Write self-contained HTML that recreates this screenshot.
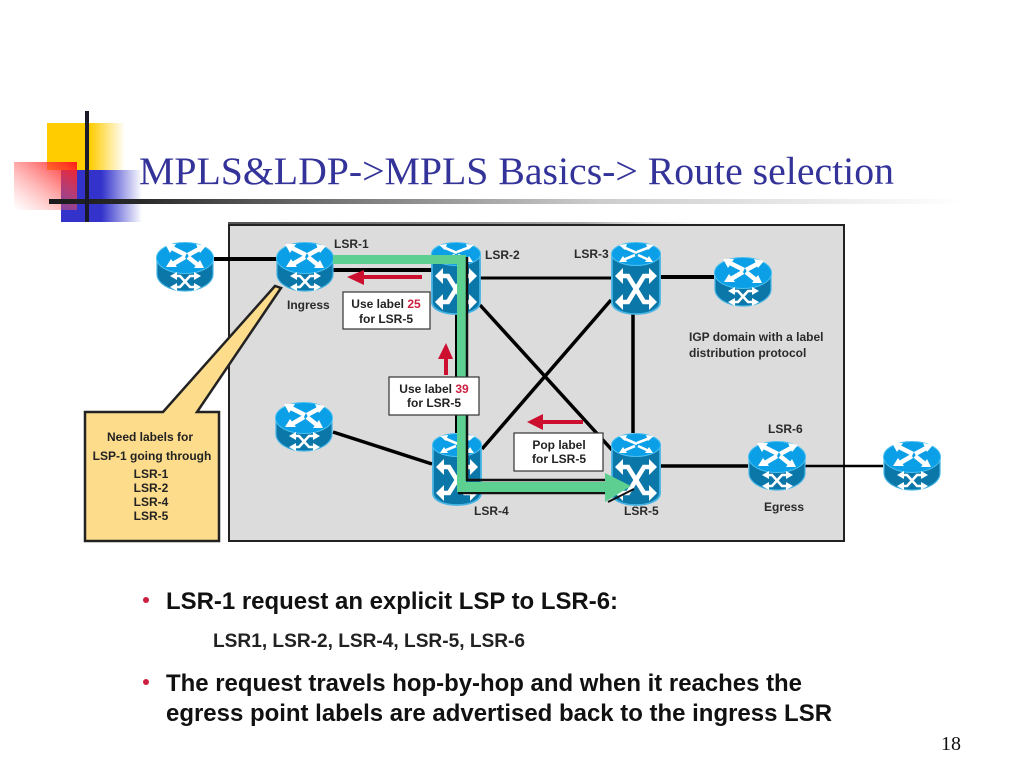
<!DOCTYPE html>
<html><head><meta charset="utf-8"><style>
html,body{margin:0;padding:0;background:#fff;width:1024px;height:768px;overflow:hidden}
svg{display:block}
text{font-family:"Liberation Sans",sans-serif}
.l{font-size:12px;font-weight:bold;fill:#2a2a2a}
.c{font-size:12px;font-weight:bold;fill:#222;text-anchor:middle}
.b{font-size:24px;font-weight:bold;fill:#111}
</style></head><body>
<svg width="1024" height="768" viewBox="0 0 1024 768" xmlns="http://www.w3.org/2000/svg">
<defs>
<linearGradient id="gy" x1="0" x2="1" y1="0" y2="0"><stop offset=".55" stop-color="#ffcc00"/><stop offset="1" stop-color="#ffcc00" stop-opacity="0"/></linearGradient>
<linearGradient id="gb" x1="0" x2="1" y1="0" y2="0"><stop offset=".5" stop-color="#3333cc"/><stop offset="1" stop-color="#3333cc" stop-opacity="0"/></linearGradient>
<linearGradient id="gr" x1="1" x2="0" y1="0" y2="1"><stop offset="0" stop-color="#ff1a1a"/><stop offset=".95" stop-color="#ff8080" stop-opacity=".05"/><stop offset="1" stop-color="#fff" stop-opacity="0"/></linearGradient>
<linearGradient id="gl" x1="0" x2="1" y1="0" y2="0"><stop offset="0" stop-color="#1a1a1a"/><stop offset=".1" stop-color="#2a2a2a"/><stop offset=".32" stop-color="#777"/><stop offset=".6" stop-color="#ccc"/><stop offset="1" stop-color="#fff"/></linearGradient>
<linearGradient id="gt" x1="0" x2="1" y1="0" y2="0"><stop offset="0" stop-color="#555"/><stop offset=".7" stop-color="#aaa"/><stop offset="1" stop-color="#fff" stop-opacity="0"/></linearGradient>
<g id="r">
<path d="M1 17V33C1 42 13 50 29 50S57 42 57 33V17Z" fill="#0b76a8" stroke="#45b4e4" stroke-width="1.2"/>
<ellipse cx="29" cy="17" rx="28.5" ry="15.5" fill="#0a9fe6" stroke="#4cc0f0" stroke-width="1"/>
<g stroke="#fff" stroke-width="4.5" fill="none">
<path d="M14 6L30 14M45 7L32 14M17 23L29 16M42 24L32 16"/>
</g>
<path d="M9 3L20 3 14 12ZM50 5L40 3 44 12ZM10 26L15 18 21 26ZM48 27L38 27 44 19Z" fill="#fff"/>
<g stroke="#fff" stroke-width="2.6" fill="none">
<path d="M19 35H24L34 46H40M19 46H24L34 35H40"/>
</g>
<path d="M14 35L21 31V39ZM14 46L21 42V50ZM45 35L38 31V39ZM45 46L38 42V50Z" fill="#fff"/>
</g>
<g id="t">
<path d="M1 12V60C1 67 11 72 25 72S49 67 49 60V12Z" fill="#0b76a8" stroke="#45b4e4" stroke-width="1.8"/>
<ellipse cx="25" cy="12" rx="24.5" ry="11.5" fill="#0a9fe6" stroke="#4cc0f0" stroke-width="1"/>
<g stroke="#fff" stroke-width="2.6" fill="none">
<path d="M12 5L26 11M39 5L26 10M12 18L24 13M38 18L27 13"/>
</g>
<path d="M8 3L16 2 14 8ZM43 3L35 2 37 8ZM8 20L12 14 16 20ZM42 20L34 20 38 14Z" fill="#fff"/>
<g stroke="#fff" stroke-width="4.6" fill="none">
<path d="M10 34H17L25 47 17 60H10M40 34H33L25 47 33 60H40"/>
</g>
<path d="M4 34L12 26V42ZM4 60L12 52V68ZM46 34L38 26V42ZM46 60L38 52V68Z" fill="#fff"/>
</g>
</defs>

<!-- decoration -->
<rect x="47" y="123" width="78" height="47" fill="url(#gy)"/>
<rect x="61" y="170" width="81" height="52" fill="url(#gb)"/>
<rect x="14" y="162" width="63" height="48" fill="url(#gr)"/>
<rect x="49" y="199" width="915" height="5" fill="url(#gl)"/>
<rect x="85" y="111" width="4" height="111" fill="#1a1a2a"/>

<text x="139" y="184" font-size="39" fill="#333399" style="font-family:'Liberation Serif',serif" textLength="755" lengthAdjust="spacingAndGlyphs">MPLS&amp;LDP-&gt;MPLS Basics-&gt; Route selection</text>

<!-- panel -->
<rect x="228" y="222" width="510" height="3" fill="url(#gt)"/>
<rect x="229" y="225" width="615" height="316" fill="#dcdcdc" stroke="#222" stroke-width="2"/>

<!-- callout -->
<path d="M85 412H163L275 286 281 288 197 412H219V541H85Z" fill="#fddc8c" stroke="#222" stroke-width="2.5"/>
<text class="c" x="150" y="441">Need labels for</text>
<text class="c" x="152" y="460">LSP-1 going through</text>
<text class="c" x="151" y="478">LSR-1</text>
<text class="c" x="151" y="492">LSR-2</text>
<text class="c" x="151" y="506">LSR-4</text>
<text class="c" x="151" y="520">LSR-5</text>

<!-- connectors -->
<g stroke="#000" fill="none">
<path d="M214 259H277" stroke-width="4"/>
<path d="M333 270H432" stroke-width="4"/>
<path d="M480 278H611" stroke-width="3"/>
<path d="M661 277H714" stroke-width="4"/>
<path d="M457 313V433" stroke-width="4"/>
<path d="M480 305L612 450" stroke-width="3.5"/>
<path d="M611 300L482 449" stroke-width="3.5"/>
<path d="M633 314V433" stroke-width="3.5"/>
<path d="M333 432L432 464" stroke-width="3.5"/>
<path d="M661 466H748" stroke-width="3.5"/>
<path d="M805 466H883" stroke-width="2.5"/>
</g>

<!-- routers -->
<use href="#r" x="156" y="241"/>
<use href="#r" x="276" y="241"/>
<use href="#r" x="714" y="256"/>
<use href="#r" x="275" y="401"/>
<use href="#r" x="748" y="440"/>
<use href="#r" x="883" y="440"/>
<use href="#t" x="431" y="242"/>
<use href="#t" x="611" y="242"/>
<use href="#t" x="432" y="433"/>
<use href="#t" x="611" y="433"/>

<path d="M466 480H606M458 493H607" stroke="#111" stroke-width="2.5"/>

<!-- green path -->
<path d="M333 255H466V482H605V473L631 486 605 502V492H457V264H333Z" fill="#5ccf91"/>
<path d="M467 257V481" stroke="#111" stroke-width="2.5"/>
<path d="M608 502L634 489" stroke="#111" stroke-width="2"/>

<!-- red arrows -->
<g fill="#cc0f2f">
<path d="M347 277L364 270V275H422V279H364V285Z"/>
<path d="M446 343L453 359H448V375H444V359H438Z"/>
<path d="M527 422L543 414V420H583V424H543V430Z"/>
</g>

<!-- label boxes -->
<g fill="#fff" stroke="#333" stroke-width="1.2">
<rect x="343" y="292" width="87" height="37"/>
<rect x="389" y="377" width="90" height="38"/>
<rect x="514" y="433" width="89" height="38"/>
</g>
<text class="c" x="386" y="308">Use label <tspan fill="#cc1f3f">25</tspan></text>
<text class="c" x="386" y="323">for  LSR-5</text>
<text class="c" x="434" y="393">Use label <tspan fill="#cc1f3f">39</tspan></text>
<text class="c" x="434" y="407">for LSR-5</text>
<text class="c" x="559" y="449">Pop label</text>
<text class="c" x="559" y="463">for LSR-5</text>

<!-- labels -->
<text class="l" x="334" y="248">LSR-1</text>
<text class="l" x="287" y="309">Ingress</text>
<text class="l" x="485" y="259">LSR-2</text>
<text class="l" x="574" y="258">LSR-3</text>
<text class="l" x="474" y="515">LSR-4</text>
<text class="l" x="624" y="515">LSR-5</text>
<text class="l" x="768" y="433">LSR-6</text>
<text class="l" x="764" y="511">Egress</text>
<text class="l" x="689" y="341">IGP domain with a label</text>
<text class="l" x="689" y="357">distribution protocol</text>

<!-- bullets -->
<circle cx="146" cy="600" r="3" fill="#cc1f3f"/>
<circle cx="146" cy="682" r="3" fill="#cc1f3f"/>
<text class="b" x="166" y="609" textLength="452" lengthAdjust="spacingAndGlyphs">LSR-1 request an explicit LSP to LSR-6:</text>
<text x="213" y="647" font-size="19" font-weight="bold" fill="#222" textLength="312" lengthAdjust="spacingAndGlyphs">LSR1, LSR-2, LSR-4, LSR-5, LSR-6</text>
<text class="b" x="166" y="691" textLength="636" lengthAdjust="spacingAndGlyphs">The request travels hop-by-hop and when it reaches the</text>
<text class="b" x="166" y="721" textLength="666" lengthAdjust="spacingAndGlyphs">egress point labels are advertised back to the ingress LSR</text>
<text x="941" y="750" font-size="20" fill="#111" style="font-family:'Liberation Serif',serif">18</text>
</svg>
</body></html>
